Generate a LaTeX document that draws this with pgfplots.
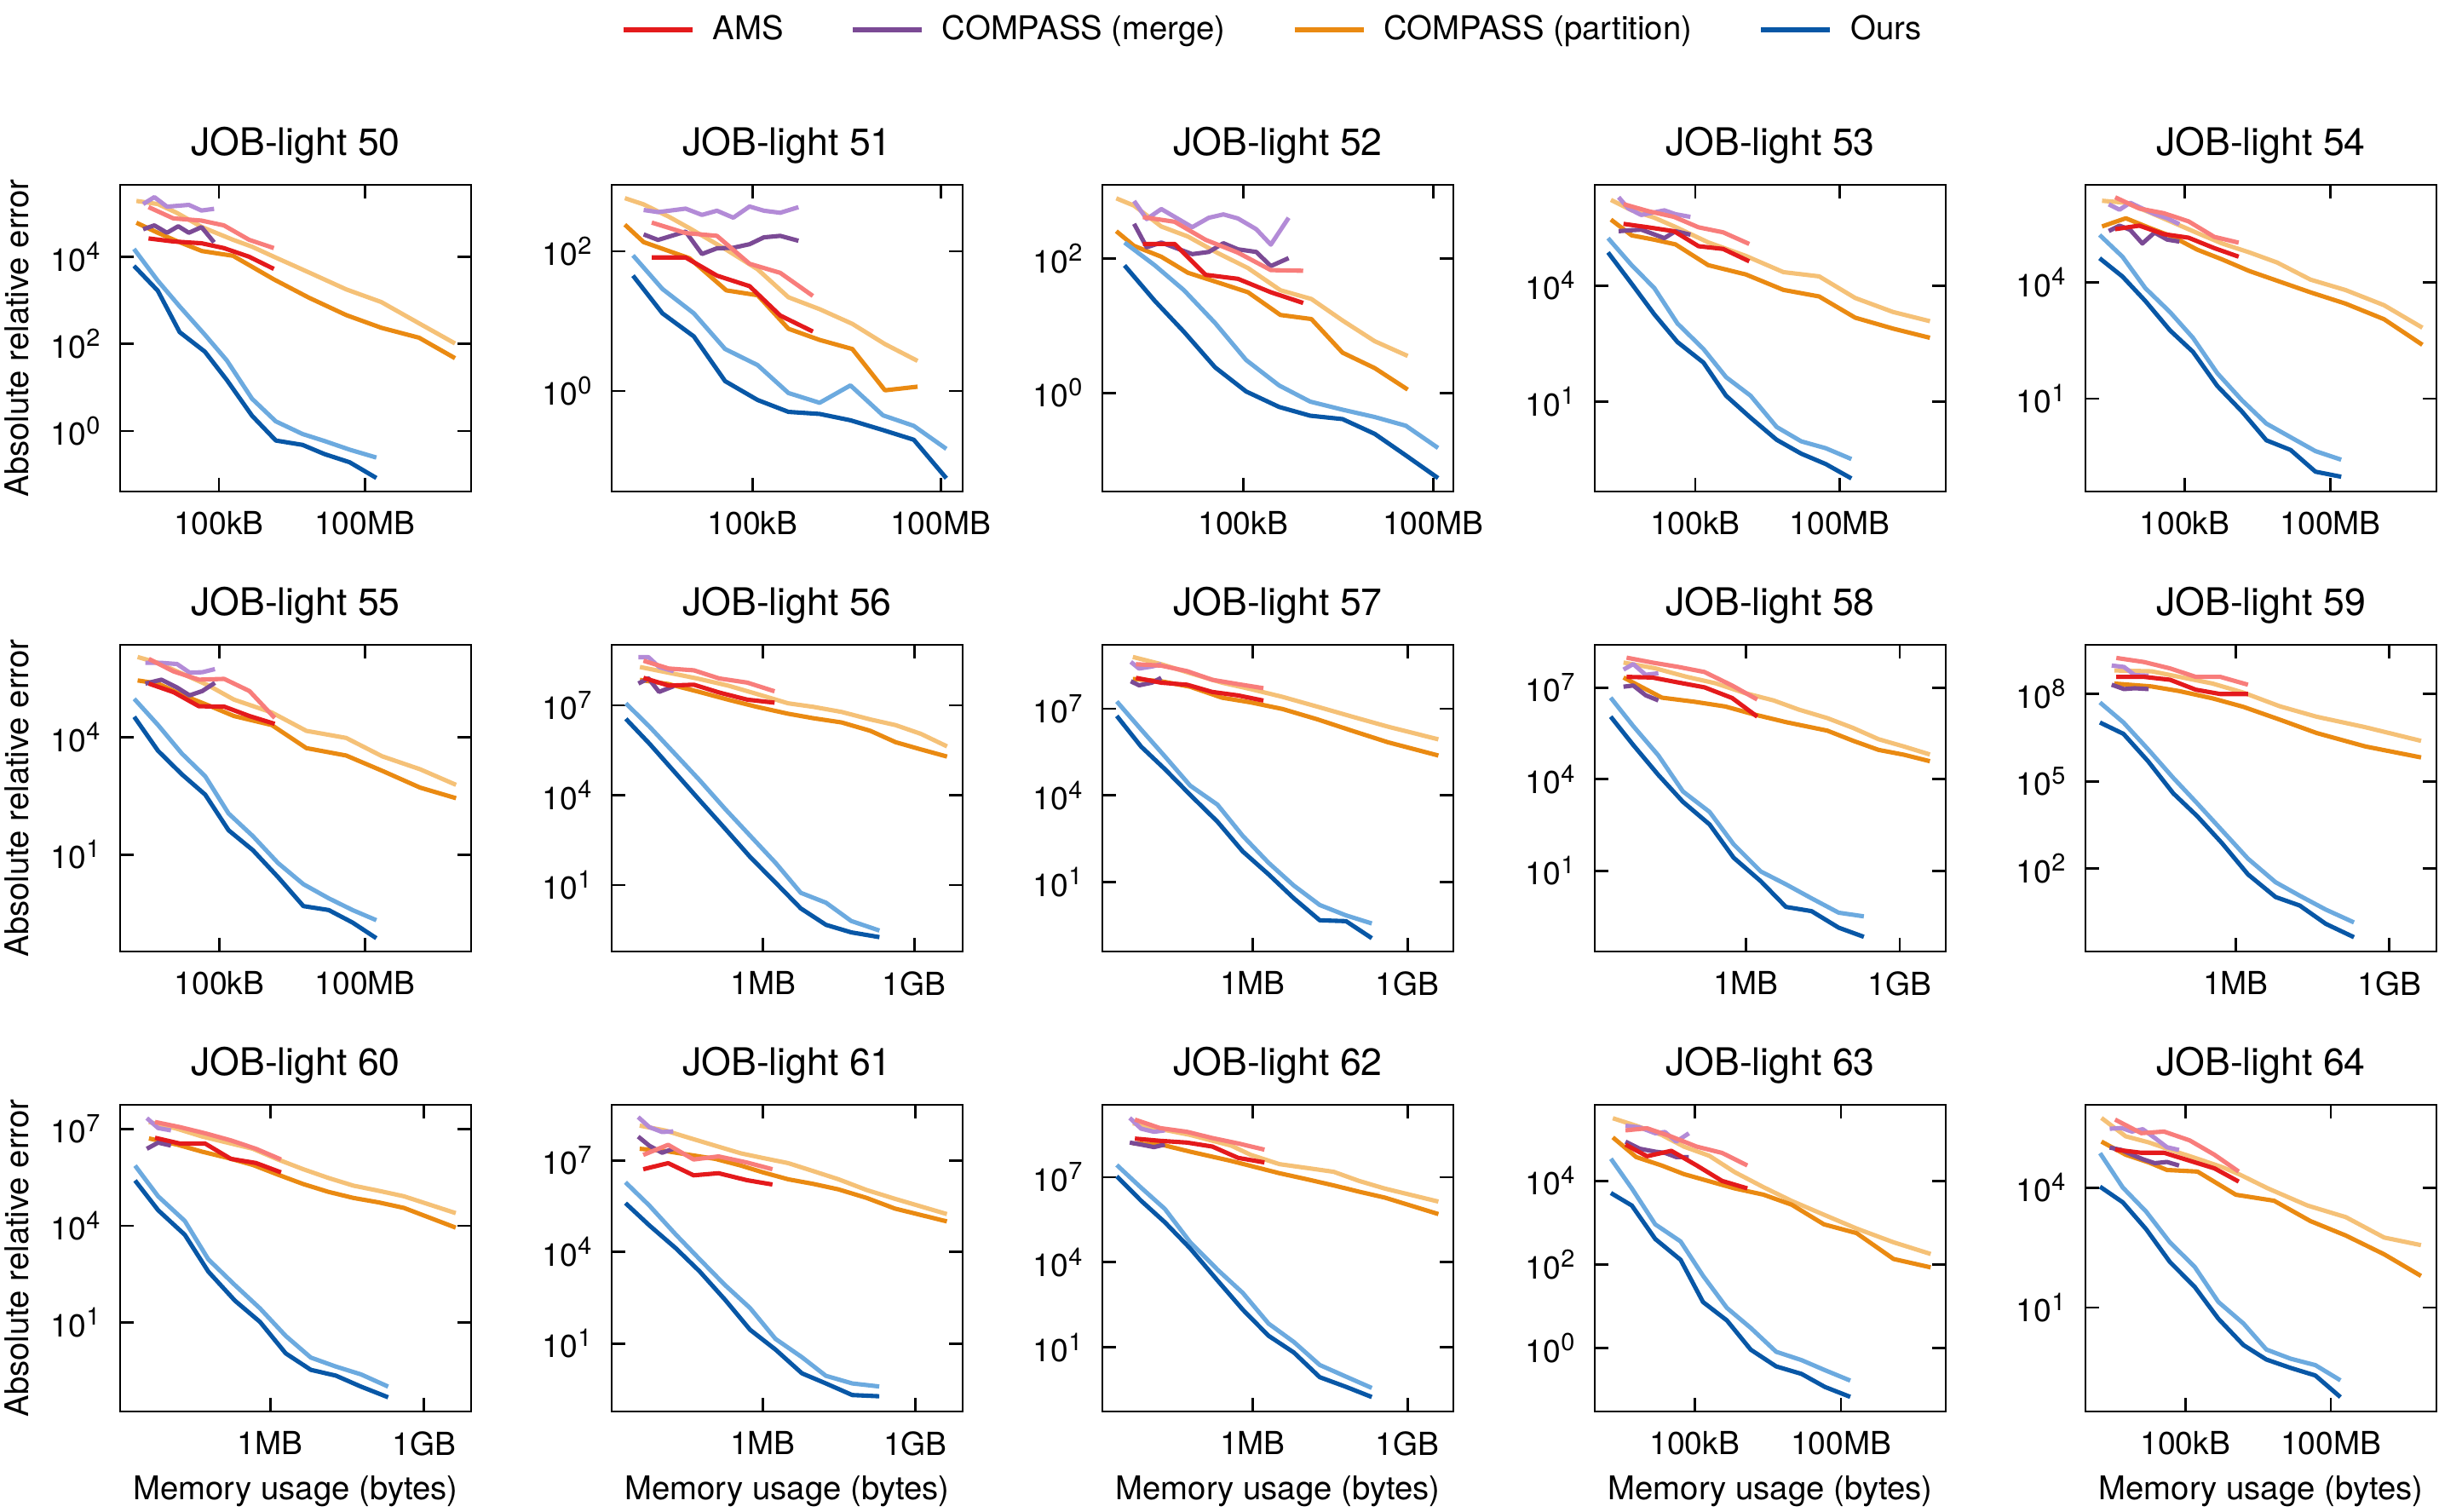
\documentclass[border=0pt]{standalone}
\usepackage{fontspec}
\setmainfont{TeX Gyre Heros}
\usepackage{pgfplots}
\pgfplotsset{compat=1.18}

\definecolor{AMSd}{HTML}{E41A1C}
\definecolor{AMSl}{HTML}{F87D7B}
\definecolor{MRGd}{HTML}{7B4A95}
\definecolor{MRGl}{HTML}{B38BD7}
\definecolor{PRTd}{HTML}{EA8A12}
\definecolor{PRTl}{HTML}{F5C177}
\definecolor{OURd}{HTML}{0857A6}
\definecolor{OURl}{HTML}{6CAADF}

\newcommand{\fTick}{\fontsize{10.6}{12.7}\selectfont}
\newcommand{\fLab}{\fontsize{10.9}{13}\selectfont}
\newcommand{\fTitle}{\fontsize{12.7}{15}\selectfont}
\newcommand{\tp}[1]{10\raisebox{0.36em}{\fontsize{8.2}{9}\selectfont #1}}

\pgfplotsset{
  sSer/.style={line width=1.45pt, line join=round, mark=none},
  sPL/.style={sSer, color=PRTl}, sPD/.style={sSer, color=PRTd},
  sML/.style={sSer, color=MRGl}, sMD/.style={sSer, color=MRGd},
  sAL/.style={sSer, color=AMSl}, sAD/.style={sSer, color=AMSd},
  sOL/.style={sSer, color=OURl}, sOD/.style={sSer, color=OURd},
  panel/.style={scale only axis, width=4.12cm, height=3.6cm,
    anchor=south west,
    xminorticks=false, yminorticks=false,
    tick align=inside, major tick length=0.16cm,
    tick style={black, line width=0.8pt},
    axis line style={line width=0.8pt},
    ticklabel style={font=\fTick},
    xticklabel style={inner sep=0pt, yshift=-0.23cm},
    yticklabel style={inner sep=0pt, xshift=-0.23cm},
    title style={at={(0.5,1.0972)}, anchor=base, font=\fTitle, inner sep=0pt, yshift=-6pt},
    xlabel style={at={(0.5,-0.2861)}, anchor=base, font=\fLab, inner sep=0pt},
    ylabel style={at={(-0.2621,0.5)}, anchor=base, font=\fLab, inner sep=0pt},
  },
  kb/.style={xtick={1e5,1e8}, xticklabels={100kB,100MB}},
  mb/.style={xtick={1e6,1e9}, xticklabels={1MB,1GB}},
}

\begin{document}
\begin{tikzpicture}
\useasboundingbox (0,0) rectangle (28.63,-17.75);

% ---------------- legend ----------------
\begin{axis}[hide axis, scale only axis, width=1cm, height=1cm,
  at={(7.29cm,-0.35cm)}, anchor=west, xmin=0, xmax=1, ymin=0, ymax=1,
  legend columns=4,
  legend image code/.code={\draw[#1, line width=1.7pt] (0cm,0cm) -- (0.81cm,0cm);},
  legend style={at={(0,0.5)}, anchor=west, draw=none, fill=none, inner sep=0pt, outer sep=0pt,
    font=\fLab, nodes={inner sep=0pt},
    /tikz/every odd column/.append style={column sep=0.21cm},
    /tikz/every even column/.append style={column sep=0.78cm}}]
\addlegendimage{color=AMSd}\addlegendentry{AMS}
\addlegendimage{color=MRGd}\addlegendentry{COMPASS (merge)}
\addlegendimage{color=PRTd}\addlegendentry{COMPASS (partition)}
\addlegendimage{color=OURd}\addlegendentry{Ours}
\end{axis}

% ---------------- JOB-light 50 ----------------
\begin{loglogaxis}[panel, kb, at={(1.41cm,-5.77cm)}, title={JOB-light 50},
  ylabel={Absolute relative error},
  xmin=9.23e2, xmax=1.55e10, ymin=0.0407, ymax=4.47e5,
  ytick={1,100,1e4}, yticklabels={\tp{0},\tp{2},\tp{4}}]
\addplot[sPL] coordinates {(2e3,1.91e5) (5.5e3,1.62e5) (1.35e4,1.02e5) (4.47e4,4.79e4) (1.95e5,2.45e4) (4.79e5,1.7e4) (1.35e6,1e4) (7.08e6,4.37e3) (4.17e7,1.78e3) (2.19e8,912) (1.32e9,295) (7.24e9,102)};
\addplot[sPD] coordinates {(2e3,6.03e4) (5.5e3,3.55e4) (1.35e4,2.29e4) (4.47e4,1.35e4) (1.95e5,1.05e4) (4.79e5,5.89e3) (1.35e6,3.02e3) (7.08e6,1.15e3) (4.17e7,457) (2.19e8,234) (1.32e9,138) (7.24e9,46.8)};
\addplot[sML] coordinates {(2.75e3,1.62e5) (4.68e3,2.34e5) (8.51e3,1.41e5) (1.45e4,1.48e5) (2.4e4,1.55e5) (4.37e4,1.15e5) (7.94e4,1.26e5)};
\addplot[sMD] coordinates {(2.75e3,4.27e4) (4.68e3,5.25e4) (8.51e3,3.55e4) (1.45e4,5.01e4) (2.4e4,3.55e4) (4.37e4,4.79e4) (7.94e4,2.14e4)};
\addplot[sAL] coordinates {(3.55e3,1.38e5) (1.15e4,7.59e4) (4.37e4,6.76e4) (1.26e5,5.25e4) (4.17e5,2.45e4) (1.35e6,1.58e4)};
\addplot[sAD] coordinates {(3.55e3,2.63e4) (1.15e4,2.24e4) (4.37e4,2.04e4) (1.26e5,1.58e4) (4.17e5,1e4) (1.35e6,5.25e3)};
\addplot[sOL] coordinates {(1.78e3,1.51e4) (5.5e3,2.82e3) (1.55e4,724) (5.13e4,162) (1.45e5,41.7) (4.79e5,5.5) (1.48e6,1.66) (5.25e6,0.851) (1.48e7,0.589) (4.9e7,0.372) (1.74e8,0.245)};
\addplot[sOD] coordinates {(1.78e3,6.17e3) (5.5e3,1.66e3) (1.55e4,186) (5.13e4,66.1) (1.45e5,14.8) (4.79e5,2.24) (1.48e6,0.603) (5.25e6,0.479) (1.48e7,0.295) (4.9e7,0.191) (1.74e8,0.0832)};
\end{loglogaxis}

% ---------------- JOB-light 51 ----------------
\begin{loglogaxis}[panel, kb, at={(7.18cm,-5.77cm)}, title={JOB-light 51},
  xmin=562, xmax=2.24e8, ymin=0.0363, ymax=891,
  ytick={1,100}, yticklabels={\tp{0},\tp{2}}]
\addplot[sPL] coordinates {(912,575) (1.82e3,468) (4.68e3,309) (9.77e3,214) (3.8e4,105) (1.2e5,55) (3.72e5,21.9) (1.17e6,14.8) (3.89e6,9.12) (1.29e7,4.68) (4.27e7,2.69)};
\addplot[sPD] coordinates {(912,240) (1.82e3,135) (4.68e3,100) (9.77e3,79.4) (3.8e4,27.5) (1.2e5,23.4) (3.72e5,7.76) (1.17e6,5.37) (3.89e6,3.98) (1.29e7,1.02) (4.27e7,1.15)};
\addplot[sML] coordinates {(1.82e3,389) (3.09e3,363) (8.51e3,407) (1.55e4,331) (2.69e4,380) (4.9e4,302) (8.91e4,437) (1.51e5,380) (2.75e5,355) (5.37e5,427)};
\addplot[sMD] coordinates {(1.82e3,174) (3.09e3,145) (8.51e3,191) (1.55e4,91.2) (2.69e4,110) (4.9e4,112) (8.91e4,126) (1.51e5,158) (2.75e5,166) (5.37e5,141)};
\addplot[sAL] coordinates {(2.45e3,257) (8.51e3,182) (2.69e4,166) (8.91e4,66.1) (2.75e5,49) (9.12e5,22.9)};
\addplot[sAD] coordinates {(2.45e3,81.3) (8.51e3,81.3) (2.69e4,44.7) (8.91e4,31.6) (2.75e5,12) (9.12e5,7.08)};
\addplot[sOL] coordinates {(1.23e3,87.1) (3.63e3,28.8) (1.15e4,12.9) (3.63e4,3.98) (1.2e5,2.34) (3.72e5,0.933) (1.17e6,0.676) (3.63e6,1.2) (1.2e7,0.447) (3.72e7,0.316) (1.23e8,0.148)};
\addplot[sOD] coordinates {(1.23e3,44.7) (3.63e3,12.9) (1.15e4,6.03) (3.63e4,1.38) (1.2e5,0.741) (3.72e5,0.501) (1.17e6,0.468) (3.63e6,0.38) (1.2e7,0.275) (3.72e7,0.2) (1.23e8,0.0562)};
\end{loglogaxis}

% ---------------- JOB-light 52 ----------------
\begin{loglogaxis}[panel, kb, at={(12.94cm,-5.77cm)}, title={JOB-light 52},
  xmin=603, xmax=2.09e8, ymin=0.0339, ymax=1.26e3,
  ytick={1,100}, yticklabels={\tp{0},\tp{2}}]
\addplot[sPL] coordinates {(1e3,794) (1.91e3,617) (5.13e3,302) (1.35e4,214) (3.89e4,123) (1.2e5,72.4) (3.89e5,33.9) (1.2e6,25.1) (3.72e6,12) (1.2e7,5.89) (3.98e7,3.55)};
\addplot[sPD] coordinates {(1e3,257) (1.91e3,155) (5.13e3,107) (1.35e4,61.7) (3.89e4,44.7) (1.2e5,31.6) (3.89e5,14.5) (1.2e6,12.6) (3.72e6,3.98) (1.2e7,2.34) (3.98e7,1.12)};
\addplot[sML] coordinates {(1.91e3,724) (3.02e3,389) (5.13e3,550) (1.58e4,295) (2.88e4,407) (4.9e4,457) (8.32e4,398) (1.62e5,275) (2.75e5,162) (5.25e5,407)};
\addplot[sMD] coordinates {(1.91e3,331) (3.02e3,148) (5.13e3,174) (1.58e4,117) (2.88e4,126) (4.9e4,170) (8.32e4,138) (1.62e5,126) (2.75e5,77.6) (5.25e5,102)};
\addplot[sAL] coordinates {(2.63e3,417) (8.32e3,355) (2.57e4,191) (8.32e4,123) (2.75e5,67.6) (8.91e5,66.1)};
\addplot[sAD] coordinates {(2.63e3,166) (8.32e3,166) (2.57e4,57.5) (8.32e4,50.1) (2.75e5,31.6) (8.91e5,21.9)};
\addplot[sOL] coordinates {(1.35e3,174) (4.07e3,79.4) (1.17e4,33.9) (3.63e4,11) (1.12e5,3.09) (3.72e5,1.29) (1.15e6,0.741) (3.72e6,0.562) (1.2e7,0.437) (3.72e7,0.324) (1.2e8,0.151)};
\addplot[sOD] coordinates {(1.35e3,79.4) (4.07e3,23.4) (1.17e4,8.13) (3.63e4,2.4) (1.12e5,1.05) (3.72e5,0.617) (1.15e6,0.457) (3.72e6,0.407) (1.2e7,0.245) (3.72e7,0.117) (1.2e8,0.0537)};
\end{loglogaxis}

% ---------------- JOB-light 53 ----------------
\begin{loglogaxis}[panel, kb, at={(18.72cm,-5.77cm)}, title={JOB-light 53},
  xmin=822, xmax=1.58e10, ymin=0.0468, ymax=4.07e6,
  ytick={10,1e4}, yticklabels={\tp{1},\tp{4}}]
\addplot[sPL] coordinates {(1.78e3,1.66e6) (4.79e3,8.91e5) (1.41e4,5.75e5) (3.89e4,3.31e5) (1.86e5,1.32e5) (1.12e6,5.89e4) (6.76e6,2.24e4) (3.72e7,1.74e4) (2.09e8,4.79e3) (1.26e9,2.09e3) (7.41e9,1.2e3)};
\addplot[sPD] coordinates {(1.78e3,5.13e5) (4.79e3,2e5) (1.41e4,1.55e5) (3.89e4,1.17e5) (1.86e5,3.39e4) (1.12e6,1.95e4) (6.76e6,7.76e3) (3.72e7,5.25e3) (2.09e8,1.48e3) (1.26e9,776) (7.41e9,447)};
\addplot[sML] coordinates {(2.57e3,1.95e6) (4.07e3,1e6) (7.59e3,6.76e5) (2.29e4,8.91e5) (3.89e4,7.08e5) (7.94e4,6.03e5)};
\addplot[sMD] coordinates {(2.57e3,2.57e5) (4.07e3,2.69e5) (7.59e3,2.82e5) (2.29e4,1.7e5) (3.89e4,2.57e5) (7.94e4,2.09e5)};
\addplot[sAL] coordinates {(3.24e3,1.29e6) (1.05e4,8.51e5) (3.63e4,6.03e5) (1.17e5,3.24e5) (3.8e5,2.4e5) (1.32e6,1.2e5)};
\addplot[sAD] coordinates {(3.24e3,3.98e5) (1.05e4,3.24e5) (3.63e4,2.57e5) (1.17e5,1.05e5) (3.8e5,8.91e4) (1.32e6,4.27e4)};
\addplot[sOL] coordinates {(1.55e3,1.7e5) (4.79e3,3.39e4) (1.41e4,8.71e3) (4.27e4,1.05e3) (1.48e5,229) (4.37e5,42.7) (1.41e6,14.1) (4.9e6,2.19) (1.58e7,0.933) (5.13e7,0.617) (1.74e8,0.324)};
\addplot[sOD] coordinates {(1.55e3,7.24e4) (4.79e3,1.12e4) (1.41e4,1.82e3) (4.27e4,347) (1.48e5,102) (4.37e5,14.1) (1.41e6,3.8) (4.9e6,1.02) (1.58e7,0.447) (5.13e7,0.24) (1.74e8,0.102)};
\end{loglogaxis}

% ---------------- JOB-light 54 ----------------
\begin{loglogaxis}[panel, kb, at={(24.48cm,-5.77cm)}, title={JOB-light 54},
  xmin=912, xmax=1.51e10, ymin=0.0407, ymax=3.24e6,
  ytick={10,1e4}, yticklabels={\tp{1},\tp{4}}]
\addplot[sPL] coordinates {(2e3,1.26e6) (6.17e3,1.12e6) (1.82e4,6.46e5) (5.75e4,3.47e5) (1.82e5,1.86e5) (5.89e5,1e5) (2.14e6,5.89e4) (7.94e6,3.24e4) (3.89e7,1.17e4) (2.04e8,6.31e3) (1.26e9,2.57e3) (7.76e9,676)};
\addplot[sPD] coordinates {(2e3,2.75e5) (6.17e3,4.47e5) (1.82e4,2.57e5) (5.75e4,1.48e5) (1.82e5,6.92e4) (5.89e5,3.89e4) (2.14e6,1.95e4) (7.94e6,1.1e4) (3.89e7,5.5e3) (2.04e8,2.82e3) (1.26e9,1.12e3) (7.76e9,245)};
\addplot[sML] coordinates {(2.75e3,1.02e6) (4.57e3,7.41e5) (7.59e3,1.12e6) (1.35e4,7.94e5) (2.4e4,5.75e5) (4.37e4,4.47e5) (7.76e4,3.16e5)};
\addplot[sMD] coordinates {(2.75e3,2.09e5) (4.57e3,2.88e5) (7.59e3,2.24e5) (1.35e4,1e5) (2.4e4,1.91e5) (4.37e4,1.26e5) (7.76e4,1.12e5)};
\addplot[sAL] coordinates {(3.72e3,1.55e6) (1.17e4,7.94e5) (3.72e4,6.03e5) (1.2e5,3.72e5) (4.07e5,1.48e5) (1.29e6,1.05e5)};
\addplot[sAD] coordinates {(3.72e3,2.34e5) (1.17e4,2.88e5) (3.72e4,1.74e5) (1.2e5,1.41e5) (4.07e5,7.59e4) (1.29e6,4.57e4)};
\addplot[sOL] coordinates {(1.78e3,1.66e5) (5.25e3,4.57e4) (1.55e4,7.08e3) (5.01e4,1.7e3) (1.48e5,372) (4.68e5,45.7) (1.51e6,9.12) (4.79e6,2.29) (1.51e7,1.02) (4.9e7,0.447) (1.66e8,0.269)};
\addplot[sOD] coordinates {(1.78e3,4.17e4) (5.25e3,1.41e4) (1.55e4,3.31e3) (5.01e4,575) (1.48e5,162) (4.68e5,21.4) (1.51e6,4.68) (4.79e6,0.851) (1.51e7,0.479) (4.9e7,0.132) (1.66e8,0.0977)};
\end{loglogaxis}

% ---------------- JOB-light 55 ----------------
\begin{loglogaxis}[panel, kb, at={(1.41cm,-11.17cm)}, title={JOB-light 55},
  ylabel={Absolute relative error},
  xmin=912, xmax=1.51e10, ymin=0.0331, ymax=2.29e6,
  ytick={10,1e4}, yticklabels={\tp{1},\tp{4}}]
\addplot[sPL] coordinates {(2.09e3,1.12e6) (5.5e3,7.94e5) (1.82e4,4.07e5) (6.03e4,2.09e5) (2e5,9.12e4) (1.2e6,4.27e4) (6.17e6,1.45e4) (4.07e7,9.55e3) (2.24e8,3.24e3) (1.35e9,1.51e3) (7.41e9,603)};
\addplot[sPD] coordinates {(2.09e3,2.82e5) (5.5e3,2.34e5) (1.82e4,1.17e5) (6.03e4,6.46e4) (2e5,3.47e4) (1.2e6,2.04e4) (6.17e6,5.25e3) (4.07e7,3.39e3) (2.24e8,1.38e3) (1.35e9,513) (7.41e9,275)};
\addplot[sML] coordinates {(3.02e3,7.94e5) (6.46e3,7.94e5) (1.35e4,7.41e5) (2.45e4,4.47e5) (4.47e4,4.57e5) (8.13e4,5.5e5)};
\addplot[sMD] coordinates {(3.02e3,2.34e5) (6.46e3,2.95e5) (1.35e4,1.86e5) (2.45e4,1.17e5) (4.47e4,1.51e5) (8.13e4,2.45e5)};
\addplot[sAL] coordinates {(3.55e3,1e6) (1.15e4,4.79e5) (3.8e4,2.95e5) (1.26e5,3.09e5) (4.17e5,1.51e5) (1.38e6,3.09e4)};
\addplot[sAD] coordinates {(3.55e3,2.34e5) (1.15e4,1.41e5) (3.8e4,6.17e4) (1.26e5,6.03e4) (4.17e5,3.47e4) (1.38e6,2.19e4)};
\addplot[sOL] coordinates {(1.78e3,9.55e4) (5.5e3,2.04e4) (1.7e4,3.8e3) (5.13e4,1e3) (1.55e5,112) (4.9e5,29.5) (1.62e6,6.03) (5.37e6,1.74) (1.78e7,0.759) (5.5e7,0.38) (1.7e8,0.209)};
\addplot[sOD] coordinates {(1.78e3,3.31e4) (5.5e3,4.47e3) (1.7e4,1.12e3) (5.13e4,339) (1.55e5,41.7) (4.9e5,12.9) (1.62e6,2.63) (5.37e6,0.479) (1.78e7,0.38) (5.5e7,0.182) (1.7e8,0.0724)};
\end{loglogaxis}

% ---------------- JOB-light 56 ----------------
\begin{loglogaxis}[panel, mb, at={(7.18cm,-11.17cm)}, title={JOB-light 56},
  xmin=1e3, xmax=9.12e9, ymin=0.0603, ymax=1.05e9,
  ytick={10,1e4,1e7}, yticklabels={\tp{1},\tp{4},\tp{7}}]
\addplot[sPL] coordinates {(3.63e3,1.91e8) (1.35e4,1.23e8) (4.9e4,7.94e7) (2.04e5,4.57e7) (7.59e5,2.4e7) (3.16e6,1.17e7) (1e7,8.91e6) (3.63e7,6.03e6) (1.35e8,3.39e6) (4.27e8,2.19e6) (1.35e9,1.12e6) (4.47e9,4.27e5)};
\addplot[sPD] coordinates {(3.63e3,7.08e7) (1.35e4,5.13e7) (4.9e4,2.95e7) (2.04e5,1.55e7) (7.59e5,8.91e6) (3.16e6,5.25e6) (1e7,3.72e6) (3.63e7,2.69e6) (1.35e8,1.41e6) (4.27e8,5.89e5) (1.35e9,3.39e5) (4.47e9,1.95e5)};
\addplot[sML] coordinates {(3.39e3,4.07e8) (5.37e3,4.07e8) (8.71e3,1.91e8) (1.7e4,1.38e8)};
\addplot[sMD] coordinates {(3.39e3,5.37e7) (5.37e3,7.94e7) (8.71e3,2.82e7) (1.7e4,4.37e7)};
\addplot[sAL] coordinates {(4.27e3,3.09e8) (1.35e4,1.7e8) (4.27e4,1.48e8) (1.35e5,7.94e7) (4.9e5,5.75e7) (1.7e6,2.95e7)};
\addplot[sAD] coordinates {(4.27e3,8.32e7) (1.35e4,4.57e7) (4.27e4,4.9e7) (1.35e5,2.69e7) (4.9e5,1.55e7) (1.7e6,1.23e7)};
\addplot[sOL] coordinates {(1.91e3,1.17e7) (5.62e3,1.95e6) (1.78e4,2.45e5) (5.62e4,3.09e4) (1.78e5,3.47e3) (5.62e5,437) (1.78e6,55) (5.62e6,5.5) (1.78e7,2.57) (5.62e7,0.631) (2.04e8,0.302)};
\addplot[sOD] coordinates {(1.91e3,3.55e6) (5.62e3,5.25e5) (1.78e4,5.89e4) (5.62e4,6.61e3) (1.78e5,759) (5.62e5,85.1) (1.78e6,12) (5.62e6,1.66) (1.78e7,0.468) (5.62e7,0.263) (2.04e8,0.182)};
\end{loglogaxis}

% ---------------- JOB-light 57 ----------------
\begin{loglogaxis}[panel, mb, at={(12.94cm,-11.17cm)}, title={JOB-light 57},
  xmin=1.23e3, xmax=7.76e9, ymin=0.0398, ymax=1.62e9,
  ytick={10,1e4,1e7}, yticklabels={\tp{1},\tp{4},\tp{7}}]
\addplot[sPL] coordinates {(4.79e3,6.17e8) (1.7e4,3.47e8) (6.17e4,1.7e8) (2.57e5,7.94e7) (9.12e5,4.79e7) (3.8e6,2.57e7) (1.82e7,1.17e7) (8.71e7,5.25e6) (4.17e8,2.4e6) (3.98e9,8.71e5)};
\addplot[sPD] coordinates {(4.79e3,1.07e8) (1.7e4,8.91e7) (6.17e4,5.75e7) (2.57e5,2.4e7) (9.12e5,1.66e7) (3.8e6,9.77e6) (1.82e7,4.27e6) (8.71e7,1.7e6) (4.17e8,6.92e5) (3.98e9,2.4e5)};
\addplot[sML] coordinates {(4.37e3,4.17e8) (6.31e3,2.45e8) (1.12e4,2.88e8) (1.7e4,3.47e8)};
\addplot[sMD] coordinates {(4.37e3,8.91e7) (6.31e3,6.46e7) (1.12e4,7.94e7) (1.7e4,1.17e8)};
\addplot[sAL] coordinates {(5.5e3,3.47e8) (1.7e4,3.09e8) (5.37e4,2e8) (1.66e5,1e8) (5.25e5,7.08e7) (1.62e6,5.13e7)};
\addplot[sAD] coordinates {(5.5e3,1.17e8) (1.7e4,7.94e7) (5.37e4,6.76e7) (1.66e5,3.8e7) (5.25e5,2.88e7) (1.62e6,1.91e7)};
\addplot[sOL] coordinates {(2.34e3,1.78e7) (6.92e3,1.91e6) (2e4,2.24e5) (6.17e4,2.19e4) (2.09e5,4.79e3) (6.46e5,398) (2.04e6,46.8) (6.31e6,7.59) (2e7,1.62) (6.46e7,0.708) (2.04e8,0.372)};
\addplot[sOD] coordinates {(2.34e3,5.62e6) (6.92e3,4.9e5) (2e4,8.13e4) (6.17e4,1.05e4) (2.09e5,1.23e3) (6.46e5,115) (2.04e6,18.6) (6.31e6,2.75) (2e7,0.479) (6.46e7,0.447) (2.04e8,0.115)};
\end{loglogaxis}

% ---------------- JOB-light 58 ----------------
\begin{loglogaxis}[panel, mb, at={(18.72cm,-11.17cm)}, title={JOB-light 58},
  xmin=1.12e3, xmax=7.94e9, ymin=0.0229, ymax=2.51e8,
  ytick={10,1e4,1e7}, yticklabels={\tp{1},\tp{4},\tp{7}}]
\addplot[sPL] coordinates {(4.07e3,6.61e7) (1.7e4,4.27e7) (7.08e4,2.24e7) (2.57e5,1.38e7) (9.55e5,6.61e6) (3.47e6,3.8e6) (1.07e7,1.91e6) (3.89e7,1e6) (1.23e8,4.79e5) (3.89e8,2.04e5) (1.23e9,1.17e5) (3.89e9,6.46e4)};
\addplot[sPD] coordinates {(4.07e3,2.14e7) (2.29e4,4.68e6) (9.55e4,3.47e6) (3.98e5,2.4e6) (1.45e6,1.32e6) (6.03e6,7.41e5) (3.89e7,3.89e5) (1.23e8,1.82e5) (3.89e8,9.12e4) (1.23e9,6.31e4) (3.89e9,3.89e4)};
\addplot[sML] coordinates {(4.07e3,3.89e7) (6.31e3,5.89e7) (1.1e4,2.63e7) (1.95e4,2.95e7)};
\addplot[sMD] coordinates {(4.07e3,1.07e7) (6.31e3,1.17e7) (1.1e4,5.62e6) (1.95e4,3.8e6)};
\addplot[sAL] coordinates {(4.68e3,9.55e7) (1.48e4,6.61e7) (4.68e4,4.79e7) (1.55e5,3.24e7) (5.37e5,1.17e7) (1.66e6,4.07e6)};
\addplot[sAD] coordinates {(4.68e3,2.24e7) (1.48e4,2.14e7) (4.68e4,1.48e7) (1.55e5,1.02e7) (5.37e5,4.57e6) (1.66e6,1.12e6)};
\addplot[sOL] coordinates {(2.29e3,4.68e6) (6.31e3,5.5e5) (1.95e4,6.03e4) (5.89e4,3.98e3) (1.95e5,851) (5.75e5,74.1) (1.95e6,9.55) (6.03e6,3.63) (1.91e7,1.26) (6.46e7,0.427) (2e8,0.324)};
\addplot[sOD] coordinates {(2.29e3,1.12e6) (6.31e3,1.32e5) (1.95e4,1.38e4) (5.89e4,1.82e3) (1.95e5,331) (5.75e5,26.9) (1.95e6,4.57) (6.03e6,0.661) (1.91e7,0.479) (6.46e7,0.138) (2e8,0.0692)};
\end{loglogaxis}

% ---------------- JOB-light 59 ----------------
\begin{loglogaxis}[panel, mb, at={(24.48cm,-11.17cm)}, title={JOB-light 59},
  xmin=1.17e3, xmax=8.32e9, ymin=0.141, ymax=4.9e9,
  ytick={100,1e5,1e8}, yticklabels={\tp{2},\tp{5},\tp{8}}]
\addplot[sPL] coordinates {(4.27e3,6.46e8) (2.29e4,6.03e8) (7.94e4,3.89e8) (3.55e5,2.29e8) (1.41e6,1.12e8) (7.24e6,3.8e7) (3.8e7,1.66e7) (3.39e8,7.24e6) (4.17e9,2.45e6)};
\addplot[sPD] coordinates {(4.27e3,2.29e8) (2.29e4,1.82e8) (7.94e4,1.26e8) (3.55e5,7.08e7) (1.41e6,3.63e7) (7.24e6,1.32e7) (3.8e7,4.57e6) (3.39e8,1.58e6) (4.17e9,6.61e5)};
\addplot[sML] coordinates {(3.8e3,9.55e8) (6.61e3,8.51e8) (1.07e4,4.47e8) (2e4,4.27e8)};
\addplot[sMD] coordinates {(3.8e3,2.09e8) (6.61e3,1.48e8) (1.07e4,1.58e8) (2e4,1.48e8)};
\addplot[sAL] coordinates {(4.68e3,1.74e9) (1.62e4,1.26e9) (5.25e4,7.59e8) (1.66e5,3.89e8) (5.01e5,3.89e8) (1.74e6,2.09e8)};
\addplot[sAD] coordinates {(4.68e3,3.89e8) (1.62e4,3.89e8) (5.25e4,3.09e8) (1.66e5,1.41e8) (5.01e5,1e8) (1.74e6,1e8)};
\addplot[sOL] coordinates {(2.24e3,5.13e7) (6.46e3,1.05e7) (1.95e4,1.26e6) (6.03e4,1.32e5) (1.78e5,1.74e4) (5.37e5,2.09e3) (1.74e6,219) (6.03e6,33.9) (1.78e7,11.7) (5.75e7,3.89) (2.04e8,1.41)};
\addplot[sOD] coordinates {(2.24e3,1.05e7) (6.46e3,4.27e6) (1.95e4,4.9e5) (6.03e4,3.89e4) (1.78e5,6.31e3) (5.37e5,759) (1.74e6,63.1) (6.03e6,10.5) (1.78e7,5.37) (5.75e7,1.26) (2.04e8,0.437)};
\end{loglogaxis}

% ---------------- JOB-light 60 ----------------
\begin{loglogaxis}[panel, mb, at={(1.41cm,-16.57cm)}, title={JOB-light 60},
  ylabel={Absolute relative error}, xlabel={Memory usage (bytes)},
  xmin=1.17e3, xmax=8.32e9, ymin=0.0178, ymax=5.5e7,
  ytick={10,1e4,1e7}, yticklabels={\tp{1},\tp{4},\tp{7}}]
\addplot[sPL] coordinates {(4.27e3,1.62e7) (1.51e4,1e7) (4.68e4,5.75e6) (1.45e5,3.72e6) (4.57e5,2.4e6) (1.41e6,1.12e6) (4.37e6,5.62e5) (1.35e7,3.02e5) (4.17e7,1.74e5) (1.32e8,1.2e5) (4.07e8,8.13e4) (4.17e9,2.45e4)};
\addplot[sPD] coordinates {(4.27e3,5.01e6) (1.51e4,3.24e6) (4.68e4,1.95e6) (1.45e5,1.26e6) (4.57e5,7.59e5) (1.41e6,3.8e5) (4.37e6,1.95e5) (1.35e7,1.12e5) (4.17e7,7.24e4) (1.32e8,5.25e4) (4.07e8,3.55e4) (4.17e9,8.71e3)};
\addplot[sML] coordinates {(3.89e3,2.14e7) (6.46e3,1.05e7) (1.15e4,8.91e6)};
\addplot[sMD] coordinates {(3.89e3,2.4e6) (6.46e3,3.72e6) (1.15e4,3.02e6)};
\addplot[sAL] coordinates {(5.62e3,1.62e7) (1.74e4,1.12e7) (5.37e4,7.24e6) (1.7e5,4.37e6) (5.25e5,2.4e6) (1.62e6,1.12e6)};
\addplot[sAD] coordinates {(5.62e3,5.25e6) (1.74e4,3.47e6) (5.37e4,3.47e6) (1.7e5,1.17e6) (5.25e5,8.71e5) (1.62e6,4.47e5)};
\addplot[sOL] coordinates {(2.29e3,7.24e5) (6.46e3,8.13e4) (2.14e4,1.41e4) (6.17e4,912) (2.04e5,145) (6.31e5,27.5) (2e6,3.89) (6.17e6,0.832) (1.91e7,0.437) (5.89e7,0.251) (2e8,0.105)};
\addplot[sOD] coordinates {(2.29e3,2.51e5) (6.46e3,3.02e4) (2.14e4,5.25e3) (6.17e4,380) (2.04e5,47.9) (6.31e5,10.5) (2e6,1.12) (6.17e6,0.347) (1.91e7,0.229) (5.89e7,0.105) (2e8,0.049)};
\end{loglogaxis}

% ---------------- JOB-light 61 ----------------
\begin{loglogaxis}[panel, mb, at={(7.18cm,-16.57cm)}, title={JOB-light 61},
  xlabel={Memory usage (bytes)},
  xmin=1.07e3, xmax=8.51e9, ymin=0.0589, ymax=6.61e8,
  ytick={10,1e4,1e7}, yticklabels={\tp{1},\tp{4},\tp{7}}]
\addplot[sPL] coordinates {(3.8e3,1.38e8) (1.2e4,9.55e7) (3.72e4,5.37e7) (1.17e5,3.02e7) (3.72e5,1.7e7) (1e6,1.2e7) (3.16e6,8.13e6) (9.77e6,4.47e6) (3.09e7,2.4e6) (1.1e8,1.07e6) (3.98e8,5.5e5) (4.17e9,1.74e5)};
\addplot[sPD] coordinates {(3.8e3,2.4e7) (1.2e4,2.04e7) (3.72e4,1.51e7) (1.17e5,1.12e7) (3.72e5,6.76e6) (1e6,4.07e6) (3.16e6,2.4e6) (9.77e6,1.7e6) (3.09e7,1.12e6) (1.1e8,5.89e5) (3.98e8,2.63e5) (4.17e9,1e5)};
\addplot[sML] coordinates {(3.55e3,2.63e8) (5.89e3,1.23e8) (1.05e4,8.51e7) (1.74e4,8.91e7)};
\addplot[sMD] coordinates {(3.55e3,6.03e7) (5.89e3,3.02e7) (1.05e4,1.78e7) (1.74e4,2.4e7)};
\addplot[sAL] coordinates {(4.47e3,1.51e7) (1.38e4,3.24e7) (4.37e4,1.07e7) (1.35e5,1.35e7) (4.9e5,8.51e6) (1.55e6,5.13e6)};
\addplot[sAD] coordinates {(4.47e3,5.13e6) (1.38e4,8.13e6) (4.37e4,3.24e6) (1.35e5,3.8e6) (4.9e5,2.24e6) (1.55e6,1.62e6)};
\addplot[sOL] coordinates {(2e3,1.91e6) (5.89e3,3.31e5) (1.95e4,3.72e4) (5.75e4,5.75e3) (1.82e5,813) (5.62e5,145) (1.78e6,14.1) (5.89e6,3.55) (1.74e7,0.871) (5.75e7,0.49) (1.95e8,0.389)};
\addplot[sOD] coordinates {(2e3,3.98e5) (5.89e3,7.41e4) (1.95e4,1.32e4) (5.75e4,2.29e3) (1.82e5,269) (5.62e5,28.2) (1.78e6,6.31) (5.89e6,1.05) (1.74e7,0.49) (5.75e7,0.204) (1.95e8,0.186)};
\end{loglogaxis}

% ---------------- JOB-light 62 ----------------
\begin{loglogaxis}[panel, mb, at={(12.94cm,-16.57cm)}, title={JOB-light 62},
  xlabel={Memory usage (bytes)},
  xmin=1.23e3, xmax=7.76e9, ymin=0.055, ymax=3.55e9,
  ytick={10,1e4,1e7}, yticklabels={\tp{1},\tp{4},\tp{7}}]
\addplot[sPL] coordinates {(4.79e3,7.94e8) (1.7e4,4.9e8) (6.17e4,3.09e8) (3.89e5,1.29e8) (9.12e5,6.17e7) (3.31e6,2.88e7) (1.17e7,2.09e7) (3.72e7,1.55e7) (1.15e8,7.41e6) (3.63e8,3.98e6) (3.98e9,1.38e6)};
\addplot[sPD] coordinates {(4.79e3,1.55e8) (1.7e4,1.41e8) (6.17e4,7.94e7) (3.89e5,3.72e7) (3.31e6,1.38e7) (1.17e7,8.32e6) (3.72e7,5.13e6) (1.15e8,3.09e6) (3.63e8,1.91e6) (3.98e9,5.01e5)};
\addplot[sML] coordinates {(4.17e3,1.23e9) (6.92e3,5.13e8) (1.23e4,3.98e8) (2e4,4.47e8)};
\addplot[sMD] coordinates {(4.17e3,1.66e8) (6.92e3,1.41e8) (1.23e4,1.15e8) (2e4,1.41e8)};
\addplot[sAL] coordinates {(5.25e3,1.07e9) (1.62e4,5.37e8) (5.37e4,3.98e8) (1.66e5,2.4e8) (5.25e5,1.55e8) (1.7e6,9.33e7)};
\addplot[sAD] coordinates {(5.25e3,2.29e8) (1.62e4,1.91e8) (5.37e4,1.66e8) (1.66e5,1.2e8) (5.25e5,4.79e7) (1.7e6,3.31e7)};
\addplot[sOL] coordinates {(2.34e3,2.69e7) (6.92e3,4.27e6) (2e4,7.59e5) (6.17e4,5.13e4) (2.09e5,5.5e3) (6.46e5,832) (2.04e6,69.2) (6.31e6,15.5) (2e7,2.4) (6.46e7,0.933) (2.04e8,0.372)};
\addplot[sOD] coordinates {(2.34e3,1.07e7) (6.92e3,1.48e6) (2e4,2.57e5) (6.17e4,3.09e4) (2.09e5,2.29e3) (6.46e5,214) (2.04e6,25.7) (6.31e6,6.61) (2e7,0.891) (6.46e7,0.407) (2.04e8,0.178)};
\end{loglogaxis}

% ---------------- JOB-light 63 ----------------
\begin{loglogaxis}[panel, kb, at={(18.72cm,-16.57cm)}, title={JOB-light 63},
  xlabel={Memory usage (bytes)},
  xmin=891, xmax=1.41e10, ymin=0.0302, ymax=6.61e5,
  ytick={1,100,1e4}, yticklabels={\tp{0},\tp{2},\tp{4}}]
\addplot[sPL] coordinates {(2.09e3,3.16e5) (6.31e3,2.09e5) (2.09e4,1.26e5) (6.03e4,6.61e4) (2e5,3.98e4) (6.61e5,1.62e4) (2.57e6,7.08e3) (9.77e6,3.31e3) (4.47e7,1.55e3) (2.09e8,724) (1.2e9,339) (6.92e9,178)};
\addplot[sPD] coordinates {(2.09e3,1.1e5) (6.31e3,3.72e4) (2.09e4,2.34e4) (6.03e4,1.45e4) (2e5,9.77e3) (6.61e5,6.61e3) (2.57e6,4.68e3) (9.77e6,2.69e3) (4.47e7,912) (2.09e8,562) (1.2e9,135) (6.92e9,85.1)};
\addplot[sML] coordinates {(3.8e3,2.09e5) (7.41e3,1.91e5) (1.55e4,1.38e5) (2.45e4,1.48e5) (4.17e4,8.71e4) (7.59e4,1.38e5)};
\addplot[sMD] coordinates {(3.8e3,8.71e4) (7.41e3,5.89e4) (1.55e4,5.01e4) (2.45e4,4.68e4) (4.17e4,3.72e4) (7.59e4,3.72e4)};
\addplot[sAL] coordinates {(3.8e3,1.62e5) (1.05e4,1.82e5) (3.31e4,1.15e5) (1.1e5,6.61e4) (3.63e5,4.68e4) (1.2e6,2.34e4)};
\addplot[sAD] coordinates {(3.8e3,7.41e4) (1.05e4,3.89e4) (3.31e4,5.25e4) (1.1e5,2.34e4) (3.63e5,1e4) (1.2e6,6.61e3)};
\addplot[sOL] coordinates {(1.91e3,3.39e4) (5.13e3,6.61e3) (1.55e4,912) (5.13e4,355) (1.48e5,53.7) (4.57e5,9.12) (1.41e6,3.02) (4.68e6,0.813) (1.55e7,0.513) (4.68e7,0.295) (1.55e8,0.166)};
\addplot[sOD] coordinates {(1.91e3,5.13e3) (5.13e3,2.57e3) (1.55e4,407) (5.13e4,129) (1.48e5,12.6) (4.57e5,4.57) (1.41e6,0.912) (4.68e6,0.363) (1.55e7,0.24) (4.68e7,0.117) (1.55e8,0.0676)};
\end{loglogaxis}

% ---------------- JOB-light 64 ----------------
\begin{loglogaxis}[panel, kb, at={(24.48cm,-16.57cm)}, title={JOB-light 64},
  xlabel={Memory usage (bytes)},
  xmin=871, xmax=1.51e10, ymin=0.0251, ymax=1.17e6,
  ytick={10,1e4}, yticklabels={\tp{1},\tp{4}}]
\addplot[sPL] coordinates {(1.86e3,5.5e5) (5.89e3,1.91e5) (1.74e4,1.35e5) (5.62e4,8.32e4) (1.78e5,5.25e4) (5.75e5,3.24e4) (1.35e6,2.09e4) (5.01e6,9.55e3) (3.31e7,3.55e3) (2.04e8,1.82e3) (1.26e9,562) (7.24e9,363)};
\addplot[sPD] coordinates {(1.86e3,1.41e5) (5.89e3,6.61e4) (1.74e4,4.27e4) (4.17e4,2.75e4) (1.78e5,2.51e4) (1.1e6,6.61e3) (6.76e6,4.68e3) (3.8e7,1.45e3) (2.04e8,631) (1.26e9,214) (7.24e9,61.7)};
\addplot[sML] coordinates {(2.75e3,2.95e5) (4.79e3,3.09e5) (7.94e3,2.51e5) (1.32e4,2.88e5) (2.34e4,1.74e5) (4.17e4,1.02e5) (7.41e4,8.71e4)};
\addplot[sMD] coordinates {(2.75e3,1e5) (4.79e3,8.71e4) (7.94e3,6.61e4) (1.32e4,5.13e4) (2.34e4,4.07e4) (4.17e4,4.37e4) (7.41e4,3.55e4)};
\addplot[sAL] coordinates {(3.55e3,5.01e5) (1.23e4,2.29e5) (3.63e4,2.51e5) (1.23e5,1.51e5) (3.98e5,6.61e4) (1.26e6,2.51e4)};
\addplot[sAD] coordinates {(3.55e3,8.91e4) (1.23e4,7.41e4) (3.63e4,7.41e4) (1.23e5,4.68e4) (3.98e5,3.02e4) (1.26e6,1.41e4)};
\addplot[sOL] coordinates {(1.74e3,7.24e4) (5.13e3,1e4) (1.55e4,2.51e3) (4.79e4,427) (1.55e5,105) (4.79e5,13.8) (1.58e6,3.98) (4.68e6,0.891) (1.48e7,0.525) (4.79e7,0.363) (1.58e8,0.151)};
\addplot[sOD] coordinates {(1.74e3,1.05e4) (5.13e3,4.27e3) (1.55e4,912) (4.79e4,138) (1.55e5,33.1) (4.79e5,5.25) (1.58e6,1.15) (4.68e6,0.501) (1.48e7,0.309) (4.79e7,0.2) (1.58e8,0.0575)};
\end{loglogaxis}

\end{tikzpicture}
\end{document}
